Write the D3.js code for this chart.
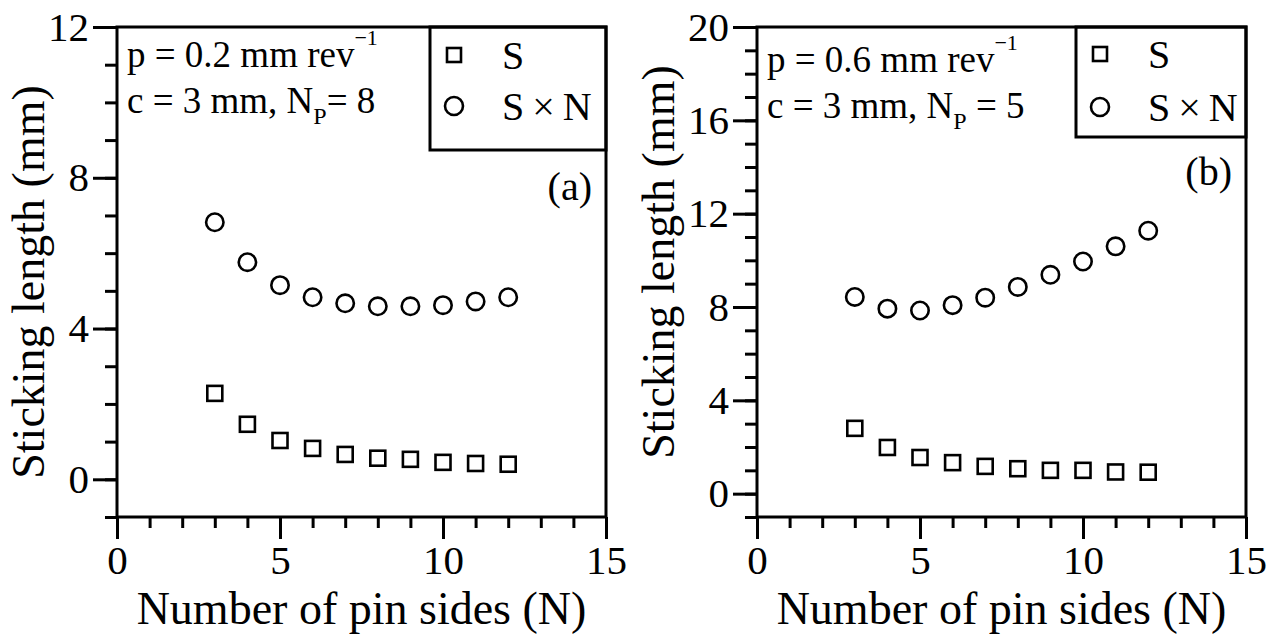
<!DOCTYPE html>
<html>
<head>
<meta charset="utf-8">
<script src="https://cdn.jsdelivr.net/npm/d3@7"></script>
<style>
  body { margin: 0; background: #fff; }
  svg { display: block; font-family: "Liberation Serif", "Times New Roman", serif; }
</style>
</head>
<body>
<div id="chart"></div>
<script>
// number of pin sides
const nSides = [3, 4, 5, 6, 7, 8, 9, 10, 11, 12];

// panel (a): p = 0.2 mm/rev
const stickA  = [2.28, 1.46, 1.03, 0.82, 0.66, 0.56, 0.53, 0.45, 0.42, 0.40];
const stickNA = [6.82, 5.76, 5.15, 4.83, 4.67, 4.59, 4.59, 4.62, 4.72, 4.83];

// panel (b): p = 0.6 mm/rev
const stickB  = [2.80, 1.98, 1.55, 1.33, 1.17, 1.07, 1.00, 1.00, 0.93, 0.92];
const stickNB = [8.43, 7.93, 7.85, 8.08, 8.40, 8.86, 9.38, 9.95, 10.60, 11.27];

const xTicks  = [0, 5, 10, 15];
const yTicksA = [0, 4, 8, 12];
const yTicksB = [0, 4, 8, 12, 16, 20];

const W = 1276, H = 635;
const pw = 489, ph = 490;
const stroke = 3;

const svg = d3.select("#chart").append("svg")
  .attr("width", W)
  .attr("height", H);

function drawPanel(opt) {
  const g = svg.append("g")
    .attr("transform", `translate(${opt.left},27)`);

  const x = d3.scaleLinear().domain([0, 15]).range([0, pw]);
  const y = d3.scaleLinear().domain(opt.yDomain).range([ph, 0]);

  // minor ticks x
  g.append("g")
    .attr("transform", `translate(0,${ph})`)
    .call(d3.axisBottom(x).tickValues(d3.range(0, 16)).tickSize(11).tickFormat(""))
    .call(a => a.select(".domain").remove());
  // major ticks x
  g.append("g")
    .attr("transform", `translate(0,${ph})`)
    .call(d3.axisBottom(x).tickValues(xTicks).tickSize(22).tickPadding(6))
    .call(a => a.select(".domain").remove())
    .selectAll("text").style("font-size", "41px");

  // minor ticks y
  g.append("g")
    .call(d3.axisLeft(y).tickValues(d3.range(opt.yDomain[0], opt.yDomain[1] + 1)).tickSize(12).tickFormat(""))
    .call(a => a.select(".domain").remove());
  // major ticks y
  g.append("g")
    .call(d3.axisLeft(y).tickValues(opt.yTicks).tickSize(24).tickPadding(4))
    .call(a => a.select(".domain").remove())
    .selectAll("text").style("font-size", "41px");

  g.selectAll(".tick line")
    .attr("stroke", "#000")
    .attr("stroke-width", stroke);
  g.selectAll(".tick text")
    .attr("fill", "#000")
    .style("font-family", "Liberation Serif");

  // frame
  g.append("rect")
    .attr("width", pw)
    .attr("height", ph)
    .attr("fill", "none")
    .attr("stroke", "#000")
    .attr("stroke-width", stroke);

  // S markers
  g.selectAll(".sq")
    .data(nSides.map((n, i) => [n, opt.s[i]]))
    .join("rect")
    .attr("x", d => x(d[0]) - 7.5)
    .attr("y", d => y(d[1]) - 7.5)
    .attr("width", 15)
    .attr("height", 15)
    .attr("fill", "none")
    .attr("stroke", "#000")
    .attr("stroke-width", 2.6);

  // S x N markers
  g.selectAll(".ci")
    .data(nSides.map((n, i) => [n, opt.sn[i]]))
    .join("circle")
    .attr("cx", d => x(d[0]))
    .attr("cy", d => y(d[1]))
    .attr("r", 8.7)
    .attr("fill", "none")
    .attr("stroke", "#000")
    .attr("stroke-width", 2.6);

  // legend box
  const lg = g.append("g");
  lg.append("rect")
    .attr("x", opt.legX)
    .attr("y", 0)
    .attr("width", pw - opt.legX)
    .attr("height", opt.legH)
    .attr("fill", "none")
    .attr("stroke", "#000")
    .attr("stroke-width", stroke);
  lg.append("rect")
    .attr("x", opt.legX + 24 - 7)
    .attr("y", opt.sqY - 7)
    .attr("width", 14)
    .attr("height", 14)
    .attr("fill", "none")
    .attr("stroke", "#000")
    .attr("stroke-width", 2.6);
  lg.append("circle")
    .attr("cx", opt.legX + 24)
    .attr("cy", opt.ciY)
    .attr("r", 9)
    .attr("fill", "none")
    .attr("stroke", "#000")
    .attr("stroke-width", 2.6);
  lg.append("text")
    .attr("x", opt.legX + 72)
    .attr("y", opt.sqY + 14)
    .style("font-size", "40px")
    .text("S");
  lg.append("text")
    .attr("x", opt.legX + 72)
    .attr("y", opt.ciY + 14)
    .style("font-size", "40px")
    .text("S\u2009×\u2009N");

  // panel letter
  g.append("text")
    .attr("x", pw - 14)
    .attr("y", opt.letterY)
    .attr("text-anchor", "end")
    .style("font-size", "40px")
    .text(opt.letter);

  // conditions
  const t1 = g.append("text")
    .attr("x", 10)
    .attr("y", opt.noteY)
    .style("font-size", "37px");
  t1.append("tspan").text(opt.feed);
  t1.append("tspan").attr("dy", -22).style("font-size", "22px").text("\u22121");

  const t2 = g.append("text")
    .attr("x", 10)
    .attr("y", opt.noteY + 46)
    .style("font-size", "37px");
  t2.append("tspan").text("c = 3 mm, N");
  t2.append("tspan").attr("dy", 11).style("font-size", "24px").text("P");
  t2.append("tspan").attr("dy", -11).text(opt.np);

  // axis titles
  g.append("text")
    .attr("x", pw / 2)
    .attr("y", 597)
    .attr("text-anchor", "middle")
    .style("font-size", "46px")
    .text("Number of pin sides (N)");

  g.append("text")
    .attr("transform", `translate(${opt.yTitleX},${opt.yTitleY}) rotate(-90)`)
    .attr("text-anchor", "middle")
    .style("font-size", "46px")
    .text("Sticking length (mm)");
}

drawPanel({
  left: 117, yDomain: [-1, 12], yTicks: yTicksA,
  s: stickA, sn: stickNA,
  legX: 313, legH: 123, sqY: 28, ciY: 79,
  letter: "(a)", letterY: 173,
  feed: "p = 0.2 mm rev", np: "= 8", noteY: 40,
  yTitleX: 44 - 117, yTitleY: 282 - 27
});

drawPanel({
  left: 757, yDomain: [-1, 20], yTicks: yTicksB,
  s: stickB, sn: stickNB,
  legX: 319, legH: 110, sqY: 27, ciY: 80,
  letter: "(b)", letterY: 158,
  feed: "p = 0.6 mm rev", np: " = 5", noteY: 45,
  yTitleX: 674 - 757, yTitleY: 262 - 27
});
</script>
</body>
</html>
